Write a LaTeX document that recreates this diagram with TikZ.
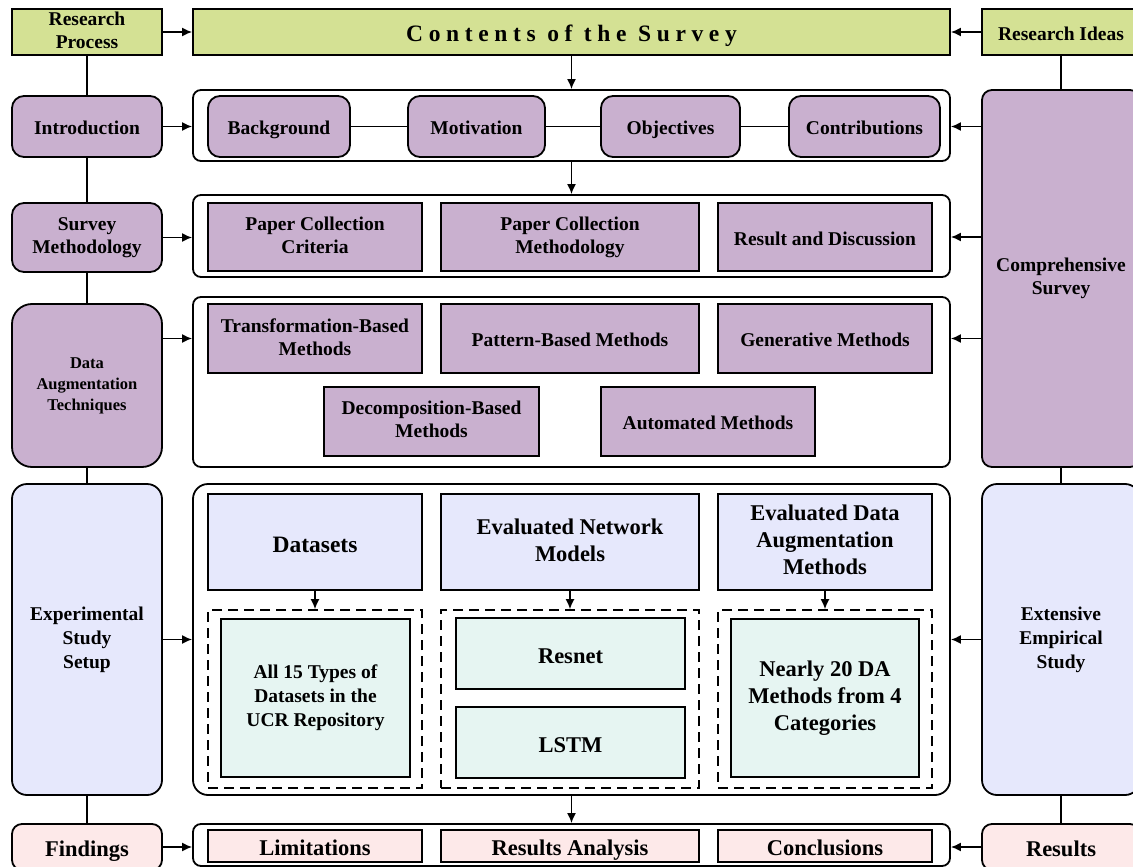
\documentclass[tikz,border=0pt]{standalone}
\usepackage{fontspec}
\setmainfont{Liberation Serif}
\newfontfamily\spacedfont[LetterSpace=24]{Liberation Serif}
\usetikzlibrary{arrows.meta}
\definecolor{topgreen}{HTML}{D4E194}
\definecolor{lilac}{HTML}{C9B0CF}
\definecolor{paleblue}{HTML}{E6E8FC}
\definecolor{mint}{HTML}{E6F5F2}
\definecolor{blush}{HTML}{FDE9E9}
\newcommand{\capstrut}{\rule[-0.19em]{0pt}{1.24em}}
\tikzset{
	box/.style={draw, line width=1.8pt, inner sep=0pt, align=center,
		font=\bfseries\fontsize{19.5}{23}\selectfont,
		execute at begin node=\capstrut, execute at end node=\capstrut},
	sz/.style 2 args={minimum width=#1pt, minimum height=#2pt},
	sidebox/.style={box, rounded corners=12pt},
	frame/.style={draw, line width=1.8pt, rounded corners=8pt, inner sep=0pt},
	dashfr/.style={draw, line width=1.6pt, dash pattern=on 10pt off 6pt, inner sep=0pt},
	big/.style={font=\bfseries\fontsize{22.5}{27}\selectfont},
	small/.style={font=\bfseries\fontsize{16.5}{21}\selectfont},
	link/.style={line width=1.6pt},
	arr/.style={link, -{Latex[length=10pt,width=9pt]}},
}

\begin{document}
\begin{tikzpicture}[x=1pt,y=-1pt]
\useasboundingbox (0,0) rectangle (1133,867);

\node[box, fill=topgreen, sz={150}{46}] (rproc) at (87,32) {Research\\Process};
\node[box, fill=topgreen, sz={757}{46}, font=\spacedfont\bfseries\fontsize{23.5}{26}\selectfont] (contents) at (571.5,32) {Contents of the Survey};
\node[box, fill=topgreen, sz={158}{46}] (rideas) at (1061,32) {Research Ideas};
\draw[arr] (rproc) -- (contents);
\draw[arr] (rideas) -- (contents);

\node[sidebox, fill=lilac, sz={150}{61}] (intro) at (87,126.5) {Introduction};
\node[frame, sz={757}{71}] (c1) at (571.5,125.5) {};
\node[sidebox, fill=lilac, sz={142}{61}] (backg) at (279,126.5) {Background};
\node[sidebox, fill=lilac, sz={137}{61}] (motiv) at (476.5,126.5) {Motivation};
\node[sidebox, fill=lilac, sz={139}{61}] (objec) at (670.5,126.5) {Objectives};
\node[sidebox, fill=lilac, sz={151}{61}] (contr) at (864.5,126.5) {Contributions};
\draw[link] (backg) -- (motiv);
\draw[link] (motiv) -- (objec);
\draw[link] (objec) -- (contr);
\node[box, rounded corners=10pt, fill=lilac, sz={158}{377}] (comp) at (1061,278.5) {Comprehensive\\Survey};

\node[sidebox, fill=lilac, sz={150}{69}] (survm) at (87,237.5) {Survey\\Methodology};
\node[frame, sz={757}{82}] (c2) at (571.5,236) {};
\node[box, fill=lilac, sz={214}{68}] (pcc) at (315,237) {Paper Collection\\Criteria};
\node[box, fill=lilac, sz={258}{68}] (pcm) at (570,237) {Paper Collection\\Methodology};
\node[box, fill=lilac, sz={214}{68}] (rad) at (825,237) {Result and Discussion};

\node[sidebox, small, rounded corners=20pt, fill=lilac, sz={150}{163}] (dat) at (87,385.5) {Data\\Augmentation\\Techniques};
\node[frame, sz={757}{170}] (c3) at (571.5,382) {};
\node[box, fill=lilac, sz={214}{69}] (tbm) at (315,338.5) {Transformation-Based\\Methods};
\node[box, fill=lilac, sz={258}{69}] (pbm) at (570,338.5) {Pattern-Based Methods};
\node[box, fill=lilac, sz={214}{69}] (gen) at (825,338.5) {Generative Methods};
\node[box, fill=lilac, sz={215}{69}] (dbm) at (431.5,421.5) {Decomposition-Based\\Methods};
\node[box, fill=lilac, sz={214}{69}] (aut) at (708,421.5) {Automated Methods};

\node[sidebox, rounded corners=15pt, fill=paleblue, sz={150}{311}, font=\bfseries\fontsize{19.5}{24}\selectfont] (exp) at (87,639.5) {Experimental\\Study\\Setup};
\node[frame, rounded corners=15pt, sz={757}{311}] (c4) at (571.5,639.5) {};
\node[sidebox, rounded corners=15pt, fill=paleblue, sz={158}{311}, font=\bfseries\fontsize{19.5}{24}\selectfont] (ext) at (1061,639.5) {Extensive\\Empirical\\Study};
\node[box, font=\bfseries\fontsize{23.5}{27}\selectfont, fill=paleblue, sz={214}{96}] (dsets) at (315,542) {Datasets};
\node[box, big, fill=paleblue, sz={258}{96}] (enm) at (570,542) {Evaluated Network\\Models};
\node[box, big, fill=paleblue, sz={214}{96}] (eda) at (825,542) {Evaluated Data\\Augmentation\\Methods};
\node[dashfr, sz={214}{178}] (d1) at (315,699) {};
\node[dashfr, sz={258}{178}] (d2) at (570,699) {};
\node[dashfr, sz={214}{178}] (d3) at (825,699) {};
\node[box, fill=mint, sz={189}{158}, font=\bfseries\fontsize{19.5}{24}\selectfont] (ucr) at (315.5,698) {All 15 Types of\\Datasets in the\\UCR Repository};
\node[box, big, fill=mint, sz={229}{71}] (resnet) at (570.5,653.5) {Resnet};
\node[box, big, fill=mint, sz={229}{71}] (lstm) at (570.5,742.5) {LSTM};
\node[box, big, fill=mint, sz={188}{158}] (nda) at (825,698) {Nearly 20 DA\\Methods from 4\\Categories};
\draw[arr] (dsets) -- (d1);
\draw[arr] (enm) -- (d2);
\draw[arr] (eda) -- (d3);

\node[sidebox, big, rounded corners=10pt, fill=blush, sz={150}{46}] (find) at (87,847) {Findings};
\node[frame, sz={757}{42}] (c5) at (571.5,845) {};
\node[box, big, fill=blush, sz={214}{32}] (lim) at (315,846) {Limitations};
\node[box, big, fill=blush, sz={258}{32}] (ran) at (570,846) {Results Analysis};
\node[box, big, fill=blush, sz={214}{32}] (concl) at (825,846) {Conclusions};
\node[sidebox, big, rounded corners=10pt, fill=blush, sz={158}{46}] (res) at (1061,847) {Results};

\draw[link] (rproc) -- (intro);
\draw[link] (intro) -- (survm);
\draw[link] (survm) -- (dat);
\draw[link] (dat) -- (exp);
\draw[link] (exp) -- (find);
\draw[link] (rideas) -- (comp);
\draw[link] (comp) -- (ext);
\draw[link] (ext) -- (res);

\draw[arr] (contents) -- (c1);
\draw[arr] (c1) -- (c2);
\draw[arr] (c4) -- (c5);

\draw[arr] (intro.east) -- (intro.east -| c1.west);
\draw[arr] (survm.east) -- (survm.east -| c2.west);
\draw[arr] (dat.east |- tbm) -- (c3.west |- tbm);
\draw[arr] (exp) -- (c4);
\draw[arr] (find.east) -- (find.east -| c5.west);
\draw[arr] (comp.west |- contr) -- (c1.east |- contr);
\draw[arr] (comp.west |- rad) -- (c2.east |- rad);
\draw[arr] (comp.west |- gen) -- (c3.east |- gen);
\draw[arr] (ext) -- (c4);
\draw[arr] (res.west) -- (res.west -| c5.east);
\end{tikzpicture}
\end{document}
